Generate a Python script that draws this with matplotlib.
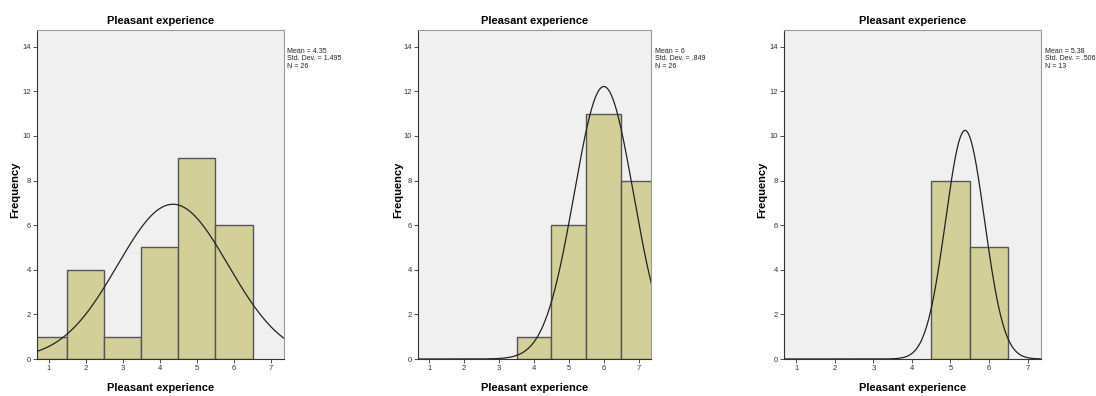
import numpy as np
import matplotlib
matplotlib.use('Agg')
import matplotlib.pyplot as plt

plt.rcParams['font.family'] = ['Liberation Sans', 'DejaVu Sans']

# histogram data: value -> frequency, one list per panel
values_1 = [1, 2, 3, 4, 5, 6]
counts_1 = [1, 4, 1, 5, 9, 6]
values_2 = [4, 5, 6, 7]
counts_2 = [1, 6, 11, 8]
values_3 = [5, 6]
counts_3 = [8, 5]

means = [4.35, 6, 5.38]
sds = [1.495, 0.849, 0.506]
ns = [26, 26, 13]
stat_labels = [
    'Mean = 4.35\nStd. Dev. = 1.495\nN = 26',
    'Mean = 6\nStd. Dev. = .849\nN = 26',
    'Mean = 5.38\nStd. Dev. = .506\nN = 13',
]

panels = [(values_1, counts_1), (values_2, counts_2), (values_3, counts_3)]

# axes boxes in pixels: left, width ; stats text x ; ylabel x
boxes = [(37, 247, 287, 15), (418, 233, 655, 398), (784, 257, 1045, 762)]

W, H = 1096, 396
fig = plt.figure(figsize=(W / 100, H / 100), dpi=100)

bar_col = '#d3cf98'
edge_col = '#555555'

for i, (vals, cnts) in enumerate(panels):
    left, width, sx, lx = boxes[i]
    ax = fig.add_axes([left / W, (H - 359) / H, width / W, 329 / H])
    ax.set_facecolor('#f0f0f0')
    ax.bar(vals, cnts, width=1.0, color=bar_col, edgecolor=edge_col, linewidth=1.0, zorder=2)

    # fitted normal curve
    xs = np.linspace(0.6, 7.5, 400)
    ys = ns[i] / (sds[i] * np.sqrt(2 * np.pi)) * np.exp(-0.5 * ((xs - means[i]) / sds[i]) ** 2)
    ax.plot(xs, ys, color='#222222', linewidth=0.9, zorder=3)

    ax.set_xlim(0.68, 7.35)
    ax.set_ylim(0, 14.75)
    ax.set_xticks(range(1, 8))
    ax.set_yticks(range(0, 15, 2))
    ax.tick_params(labelsize=5.5, length=3, width=0.6, colors='#333333', pad=1.5)
    for s in ax.spines.values():
        s.set_color('#999999')
        s.set_linewidth(0.8)
    ax.spines['bottom'].set_color('#333333')
    ax.spines['left'].set_color('#333333')

    ax.set_title('Pleasant experience', fontsize=8, fontweight='bold', pad=4)
    ax.set_xlabel('Pleasant experience', fontsize=8, fontweight='bold', labelpad=8)

    fig.text(lx / W, (H - 190) / H, 'Frequency', rotation=90, fontsize=8,
             fontweight='bold', ha='center', va='center')
    fig.text(sx / W, (H - 48) / H, stat_labels[i], fontsize=5, va='top', ha='left',
             linespacing=1.1, color='#222222')

fig.savefig('out.png', dpi=100)
